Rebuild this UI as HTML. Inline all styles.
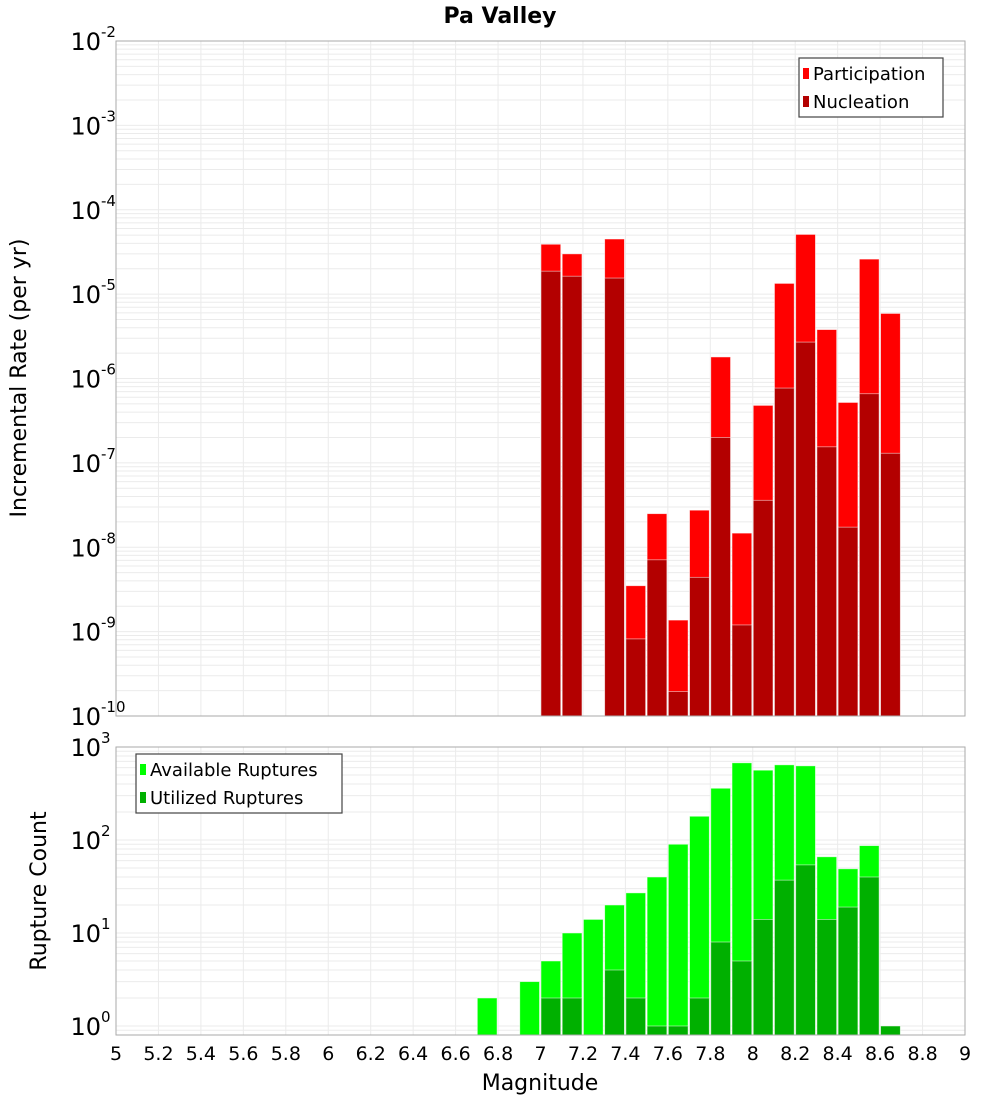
<!DOCTYPE html>
<html><head><meta charset="utf-8">
<style>
html,body{margin:0;padding:0;background:#fff;}
svg text{font-family:"DejaVu Sans","Liberation Sans",sans-serif;fill:#000;}
</style></head>
<body>
<svg id="chart" width="1000" height="1100" xmlns="http://www.w3.org/2000/svg">
<text x="500" y="23" text-anchor="middle" font-size="22" font-weight="bold">Pa Valley</text>
<g id="top"></g><g id="bot"></g>
<text transform="translate(26,378) rotate(-90)" text-anchor="middle" font-size="22">Incremental Rate (per yr)</text>
<text transform="translate(46,891) rotate(-90)" text-anchor="middle" font-size="22">Rupture Count</text>
<text x="540" y="1090" text-anchor="middle" font-size="22">Magnitude</text>
</svg>
<script>
// Top chart data (bin start magnitudes, rates)
const topBins = [7.0, 7.1, 7.3, 7.4, 7.5, 7.6, 7.7, 7.8, 7.9, 8.0, 8.1, 8.2, 8.3, 8.4, 8.5, 8.6];
const participation = [3.9e-5, 3.0e-5, 4.5e-5, 3.5e-9, 2.5e-8, 1.37e-9, 2.75e-8, 1.8e-6, 1.47e-8, 4.8e-7, 1.34e-5, 5.1e-5, 3.8e-6, 5.2e-7, 2.6e-5, 5.9e-6];
const nucleation = [1.87e-5, 1.63e-5, 1.55e-5, 8.2e-10, 7.1e-9, 1.95e-10, 4.4e-9, 2.0e-7, 1.2e-9, 3.6e-8, 7.7e-7, 2.7e-6, 1.55e-7, 1.73e-8, 6.6e-7, 1.3e-7];
// Bottom chart data
const botBins = [6.7, 6.9, 7.0, 7.1, 7.2, 7.3, 7.4, 7.5, 7.6, 7.7, 7.8, 7.9, 8.0, 8.1, 8.2, 8.3, 8.4, 8.5, 8.6];
const available = [2, 3, 5, 10, 14, 20, 27, 40, 90, 180, 360, 676, 563, 643, 627, 66, 49, 87, 0];
const utilized = [0, 0, 2, 2, 0, 4, 2, 1, 1, 2, 8, 5, 14, 37, 54, 14, 19, 40, 1];
const xTicks = [5, 5.2, 5.4, 5.6, 5.8, 6, 6.2, 6.4, 6.6, 6.8, 7, 7.2, 7.4, 7.6, 7.8, 8, 8.2, 8.4, 8.6, 8.8, 9];
const topExps = [-2, -3, -4, -5, -6, -7, -8, -9, -10];
const botExps = [3, 2, 1, 0];

const NS = "http://www.w3.org/2000/svg";
const X0 = 116, X1 = 965, XMIN = 5, XMAX = 9;
const xs = m => X0 + (m - XMIN) / (XMAX - XMIN) * (X1 - X0);
function mk(parent, tag, attrs) {
  const e = document.createElementNS(NS, tag);
  for (const k in attrs) e.setAttribute(k, attrs[k]);
  parent.appendChild(e); return e;
}
function panel(g, top, bottom, ymin, ymax, pre) {
  const ys = v => bottom - (Math.log10(v) - ymin) / (ymax - ymin) * (bottom - top);
  const bg = mk(g, 'rect', {x: X0, y: top, width: X1 - X0, height: bottom - top, fill: '#fff'});
  
  
  for (let d = Math.floor(ymin); d < Math.ceil(ymax); d++) {
    for (let k = 1; k < 10; k++) {
      const v = k * Math.pow(10, d);
      const lv = Math.log10(v);
      if (lv < ymin || lv > ymax) continue;
      const y = ys(v);
      const l = mk(g, 'line', {x1: X0, x2: X1, y1: y, y2: y, stroke: '#ebebeb', 'stroke-width': 1});
      
      
    }
  }
  xTicks.forEach(t => {
    const x = xs(t);
    const l = mk(g, 'line', {x1: x, x2: x, y1: top, y2: bottom, stroke: '#ebebeb', 'stroke-width': 1});
    
    
  });
  return ys;
}
function bar(g, m, v, ys, bottom, color, name) {
  if (!v || v <= 0) return;
  const x = xs(m) + 0.5, w = xs(m + 0.1) - xs(m) - 1.5;
  const y = ys(v);
  const r = mk(g, 'rect', {x: x, y: y, width: w, height: bottom - y, fill: color, stroke: 'rgba(255,255,255,0.6)', 'stroke-width': 0.8});
  
  
}
function ylabel(g, y, e, name) {
  const t = mk(g, 'text', {x: 101, y: y + 9, 'text-anchor': 'end', 'font-size': 24});
  t.textContent = '10';
  
  
  const s = mk(g, 'text', {x: 101, y: y - 4, 'font-size': 15});
  s.textContent = String(e);
  
  
}
function legend(g, x, y, w, items, name) {
  const b = mk(g, 'rect', {x: x, y: y, width: w, height: 59, fill: '#fff', stroke: '#444', 'stroke-width': 1.2});
  
  
  items.forEach((it, i) => {
    const cy = y + 15 + i * 28;
    const sw = mk(g, 'rect', {x: x + 4, y: cy - 5, width: 6, height: 11, fill: it[1]});
    
    
    const t = mk(g, 'text', {x: x + 14, y: cy + 7, 'font-size': 18});
    t.textContent = it[0];
    
    
  });
}

const gt = document.getElementById('top');
const TT = 41, TB = 716;
const yt = panel(gt, TT, TB, -10, -2, 'top');
topBins.forEach((m, i) => bar(gt, m, participation[i], yt, TB, '#ff0000', 'bar-participation-' + m.toFixed(1)));
topBins.forEach((m, i) => bar(gt, m, nucleation[i], yt, TB, '#b30000', 'bar-nucleation-' + m.toFixed(1)));
const ft = mk(gt, 'rect', {x: X0, y: TT, width: X1 - X0, height: TB - TT, fill: 'none', stroke: '#aaa', 'stroke-width': 1});


topExps.forEach(e => ylabel(gt, yt(Math.pow(10, e)), e, 'top-y-tick-label'));
legend(gt, 799, 58, 144, [['Participation', '#ff0000', 'participation'], ['Nucleation', '#b30000', 'nucleation']], 'top-legend');

const gb = document.getElementById('bot');
const BT = 747, BB = 1035;
const BMIN = -9 / 93;
const yb = panel(gb, BT, BB, BMIN, 3, 'bottom');
botBins.forEach((m, i) => bar(gb, m, available[i], yb, BB, '#00ff00', 'bar-available-' + m.toFixed(1)));
botBins.forEach((m, i) => bar(gb, m, utilized[i], yb, BB, '#00b000', 'bar-utilized-' + m.toFixed(1)));
const fb = mk(gb, 'rect', {x: X0, y: BT, width: X1 - X0, height: BB - BT, fill: 'none', stroke: '#aaa', 'stroke-width': 1});


botExps.forEach(e => ylabel(gb, yb(Math.pow(10, e)), e, 'bottom-y-tick-label'));
legend(gb, 136, 754, 206, [['Available Ruptures', '#00ff00', 'available'], ['Utilized Ruptures', '#00b000', 'utilized']], 'bottom-legend');
xTicks.forEach(t => {
  const tx = mk(gb, 'text', {x: xs(t), y: 1060, 'text-anchor': 'middle', 'font-size': 19});
  tx.textContent = String(t);
  
  
});
</script>
</body></html>
